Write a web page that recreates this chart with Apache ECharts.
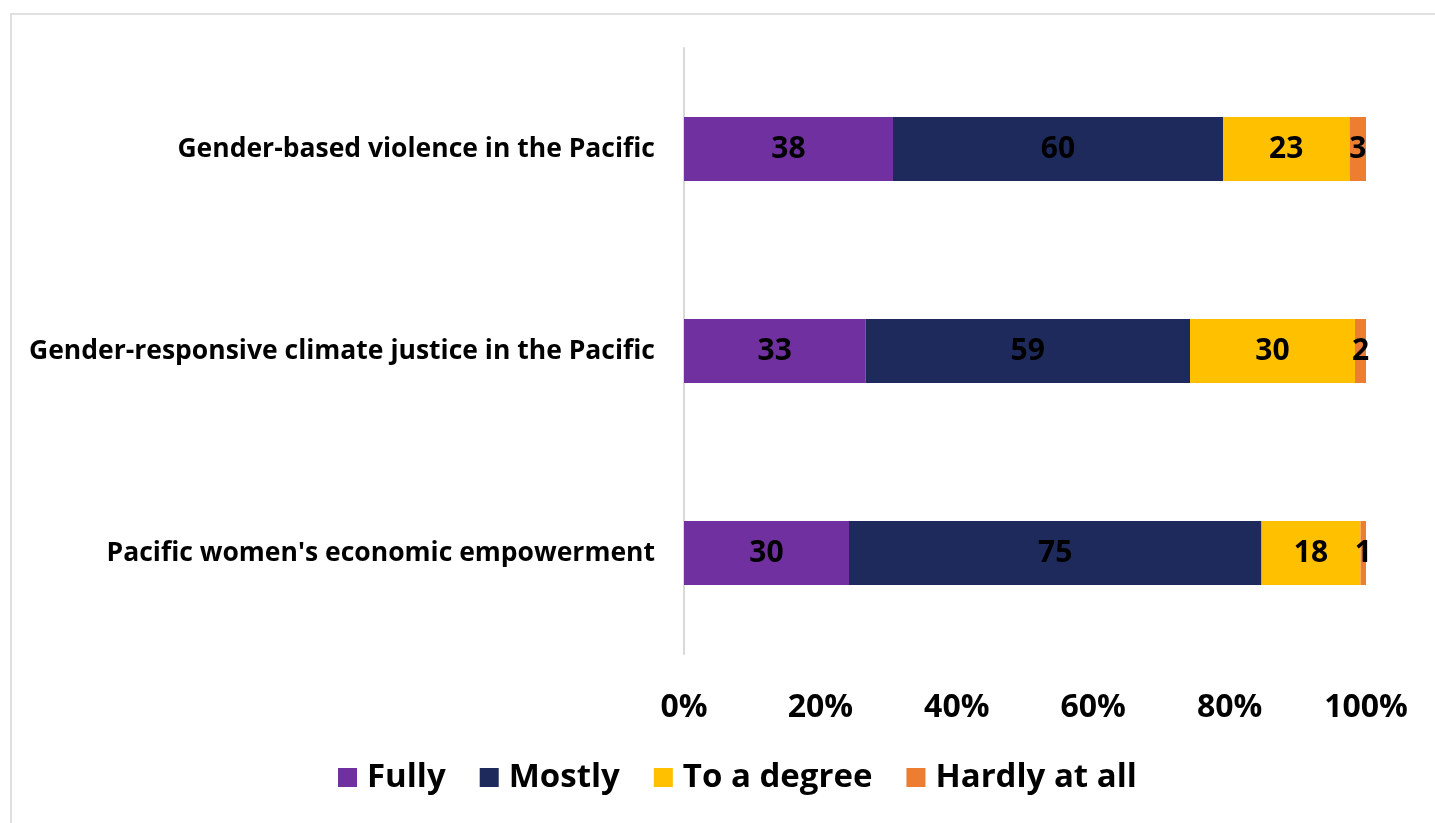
<!DOCTYPE html>
<html>
<head>
<meta charset="utf-8">
<script src="https://cdn.jsdelivr.net/npm/echarts@6/dist/echarts.min.js"></script>
<style>
html,body{margin:0;padding:0;background:#fff;}
#frame{position:absolute;left:10px;top:13px;width:1440px;height:830px;border:2px solid #e0e0e0;box-sizing:border-box;}
#chart{position:absolute;left:0;top:0;width:1435px;height:823px;}
</style>
</head>
<body>
<div id="frame"></div>
<div id="chart"></div>
<script>
const categories = [
  "Gender-based violence in the Pacific",
  "Gender-responsive climate justice in the Pacific",
  "Pacific women's economic empowerment"
];
const seriesNames = ["Fully", "Mostly", "To a degree", "Hardly at all"];
const fully = [38, 33, 30];
const mostly = [60, 59, 75];
const toADegree = [23, 30, 18];
const hardly = [3, 2, 1];
const xTicks = [0, 20, 40, 60, 80, 100];
const colors = ["#7030A0", "#1F2A5C", "#FFC000", "#ED7D31"];

const raw = [fully, mostly, toADegree, hardly];
const totals = categories.map((c, i) => raw.reduce((s, arr) => s + arr[i], 0));
const font = "'Open Sans', Lato, sans-serif";

const chart = echarts.init(document.getElementById('chart'));
chart.setOption({
  animation: false,
  color: colors,
  grid: {left: 684, right: 69, top: 48, bottom: 169, containLabel: false},
  xAxis: {
    type: 'value', min: xTicks[0], max: xTicks[xTicks.length - 1], interval: xTicks[1] - xTicks[0],
    axisLine: {show: false}, axisTick: {show: false}, splitLine: {show: false},
    axisLabel: {formatter: v => v + '%', fontFamily: font, fontWeight: 'bold', fontSize: 32, color: '#000', margin: 38}
  },
  yAxis: {
    type: 'category', data: categories, inverse: true,
    axisLine: {show: true, lineStyle: {color: '#d9d9d9', width: 2}},
    axisTick: {show: false},
    axisLabel: {fontFamily: font, fontWeight: 'bold', fontSize: 26.5, color: '#000', margin: 29}
  },
  legend: {
    bottom: 24, left: 333, itemWidth: 19, itemHeight: 19, itemGap: 34,
    icon: 'rect',
    textStyle: {fontFamily: font, fontWeight: 'bold', fontSize: 33, color: '#000', padding: [0, 0, 0, 5]},
    data: seriesNames
  },
  series: seriesNames.map((name, k) => ({
    name: name, type: 'bar', stack: 'total', barWidth: 64,
    data: raw[k].map((v, i) => v / totals[i] * 100),
    label: {
      show: true, position: 'inside', color: '#000',
      fontFamily: font, fontWeight: 'bold', fontSize: 30,
      formatter: p => String(raw[k][p.dataIndex])
    }
  }))
});
</script>
</body>
</html>
